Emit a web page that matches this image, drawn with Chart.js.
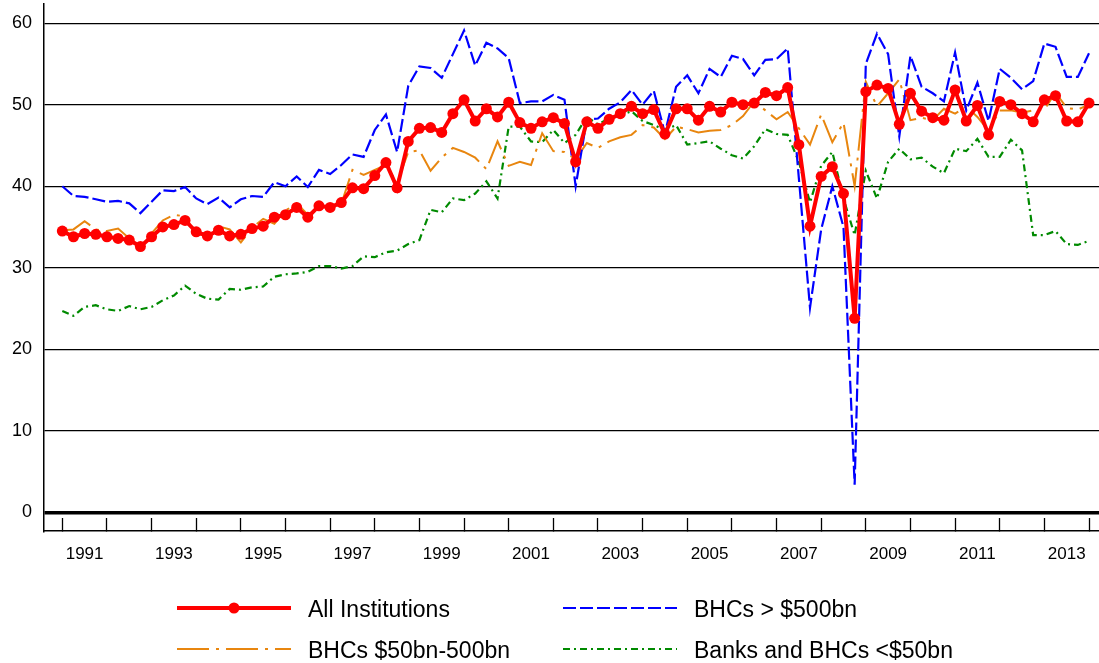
<!DOCTYPE html>
<html>
<head>
<meta charset="utf-8">
<script src="https://cdn.jsdelivr.net/npm/chart.js@4.4.1/dist/chart.umd.min.js"></script>
<style>
  html, body { margin: 0; padding: 0; background: #fff; }
  #chart { display: block; }
</style>
</head>
<body>
<canvas id="chart" width="1099" height="663"></canvas>
<script>
// quarterly observations, 1991 Q1 .. 2014 Q1
const quarters = [];
for (let y = 1991; y <= 2014; y++) {
    for (let q = 1; q <= 4; q++) quarters.push(y + ' Q' + q);
}
quarters.length = 93;

const allInstitutions = [
    34.5, 33.8, 34.2, 34.1, 33.8, 33.6, 33.4, 32.6, 33.8, 35.0, 35.3, 35.8,
    34.4, 33.9, 34.6, 33.9, 34.1, 34.8, 35.1, 36.2, 36.5, 37.4, 36.2, 37.6,
    37.4, 38.0, 39.8, 39.7, 41.3, 42.9, 39.8, 45.5, 47.1, 47.2, 46.6, 48.9,
    50.6, 48.0, 49.5, 48.5, 50.3, 47.8, 47.1, 47.9, 48.4, 47.7, 43.0, 47.9,
    47.1, 48.2, 48.9, 49.8, 48.9, 49.4, 46.4, 49.5, 49.5, 48.1, 49.8, 49.1,
    50.3, 50.0, 50.2, 51.5, 51.1, 52.1, 45.1, 35.1, 41.2, 42.4, 39.1, 23.8,
    51.6, 52.4, 52.0, 47.6, 51.4, 49.2, 48.4, 48.1, 51.8, 48.0, 49.9, 46.3,
    50.4, 50.0, 48.9, 47.9, 50.6, 51.1, 48.0, 47.9, 50.2
];
const bhcsOver500 = [
    40.0, 38.8, 38.7, 38.4, 38.1, 38.2, 37.9, 36.7, 38.1, 39.5, 39.4, 39.9,
    38.5, 37.8, 38.6, 37.4, 38.4, 38.8, 38.7, 40.5, 40.0, 41.2, 39.9, 42.0,
    41.5, 42.6, 43.9, 43.6, 46.9, 48.8, 44.2, 52.3, 54.7, 54.5, 53.3, 56.2,
    59.1, 54.8, 57.6, 56.9, 55.7, 50.2, 50.4, 50.4, 51.2, 50.6, 40.0, 48.2,
    48.3, 49.5, 50.3, 51.8, 50.0, 51.7, 46.5, 52.2, 53.6, 51.4, 54.4, 53.4,
    56.0, 55.6, 53.6, 55.5, 55.6, 56.9, 41.0, 25.1, 34.7, 40.0, 35.0, 3.4,
    55.0, 58.7, 56.2, 46.1, 56.0, 52.2, 51.4, 50.4, 56.4, 49.3, 52.7, 48.0,
    54.4, 53.3, 51.9, 52.9, 57.5, 57.1, 53.4, 53.4, 56.3
];
const bhcs50to500 = [
    34.6, 34.7, 35.7, 34.7, 34.5, 34.8, 33.6, 32.9, 34.2, 35.8, 36.5, 36.3,
    34.0, 34.2, 35.1, 34.7, 33.1, 34.9, 36.0, 35.4, 37.0, 37.9, 36.5, 37.4,
    37.5, 37.8, 42.0, 41.4, 42.0, 42.6, 40.4, 44.2, 44.4, 41.9, 43.5, 44.7,
    44.2, 43.5, 42.1, 45.5, 42.5, 43.0, 42.6, 46.5, 44.3, 44.2, 43.3, 45.3,
    44.7, 45.5, 46.0, 46.3, 47.5, 47.2, 45.8, 47.3, 47.0, 46.6, 46.8, 46.9,
    47.5, 48.6, 50.4, 49.3, 48.2, 49.1, 47.1, 45.1, 48.8, 45.4, 47.8, 40.0,
    52.8, 49.8, 51.4, 53.1, 48.1, 48.4, 48.1, 49.5, 48.9, 49.8, 48.5, 46.8,
    49.3, 49.3, 49.0, 49.3, 49.4, 51.5, 49.6, 49.4, 50.0
];
const banksUnder50 = [
    24.7, 24.1, 25.2, 25.4, 24.9, 24.7, 25.3, 24.9, 25.2, 26.0, 26.6, 27.8,
    26.8, 26.2, 26.1, 27.4, 27.3, 27.6, 27.7, 28.9, 29.2, 29.3, 29.5, 30.2,
    30.2, 29.9, 30.2, 31.4, 31.3, 31.9, 32.1, 32.9, 33.4, 37.1, 36.8, 38.5,
    38.3, 39.1, 40.6, 38.5, 47.3, 47.3, 45.5, 45.4, 46.9, 45.3, 46.3, 48.5,
    47.6, 48.3, 48.7, 49.2, 48.0, 47.5, 46.9, 47.5, 45.1, 45.3, 45.5, 44.6,
    43.8, 43.4, 44.9, 47.0, 46.4, 46.3, 43.0, 38.0, 42.5, 44.2, 38.5, 34.0,
    41.9, 38.5, 43.0, 44.6, 43.3, 43.5, 42.4, 41.6, 44.6, 44.3, 45.8, 43.6,
    43.6, 45.7, 44.4, 34.0, 34.0, 34.5, 32.9, 32.8, 33.3
];

const yearLabels = ['1991', '1993', '1995', '1997', '1999', '2001', '2003',
    '2005', '2007', '2009', '2011', '2013'];
const yTicks = [0, 10, 20, 30, 40, 50, 60];
const seriesNames = ['All Institutions', 'BHCs > $500bn', 'BHCs $50bn-500bn',
    'Banks and BHCs <$50bn'];

const FONT = "'Liberation Sans', Arial, sans-serif";

function quarterToX(label) {
    const parts = label.split(' Q');
    return Number(parts[0]) + (Number(parts[1]) - 1) / 4;
}

function toPoints(values) {
    return values.map((v, i) => ({ x: quarterToX(quarters[i]), y: v }));
}

// legend is laid out in two fixed columns, like the original
const legendSlots = [
    { line: [177, 291], y: 608, textX: 308, baseline: 617 },
    { line: [563, 677], y: 608, textX: 694, baseline: 617 },
    { line: [177, 291], y: 649, textX: 308, baseline: 658 },
    { line: [563, 677], y: 649, textX: 694, baseline: 658 }
];

const columnLegend = {
    id: 'columnLegend',
    afterDraw(chart) {
        const ctx = chart.ctx;
        chart.data.datasets.forEach((ds, i) => {
            const slot = legendSlots[i];
            ctx.save();
            ctx.strokeStyle = ds.borderColor;
            ctx.lineWidth = ds.borderWidth;
            ctx.setLineDash(ds.borderDash || []);
            ctx.beginPath();
            ctx.moveTo(slot.line[0], slot.y);
            ctx.lineTo(slot.line[1], slot.y);
            ctx.stroke();
            if (ds.pointRadius > 0) {
                ctx.fillStyle = ds.pointBackgroundColor;
                ctx.beginPath();
                ctx.arc((slot.line[0] + slot.line[1]) / 2, slot.y, ds.pointRadius, 0, Math.PI * 2);
                ctx.fill();
            }
            ctx.fillStyle = '#000';
            ctx.font = '23px ' + FONT;
            ctx.textBaseline = 'alphabetic';
            ctx.textAlign = 'left';
            ctx.fillText(ds.label, slot.textX, slot.baseline);
            ctx.restore();
        });
    }
};

new Chart(document.getElementById('chart'), {
    type: 'line',
    data: {
        datasets: [
            {
                label: seriesNames[0],
                data: toPoints(allInstitutions),
                borderColor: '#ff0000',
                backgroundColor: '#ff0000',
                borderWidth: 4,
                pointRadius: 5.5,
                pointBackgroundColor: '#ff0000',
                pointBorderWidth: 0,
                tension: 0
            },
            {
                label: seriesNames[1],
                data: toPoints(bhcsOver500),
                borderColor: '#0000ff',
                borderWidth: 2.2,
                borderDash: [13, 4],
                pointRadius: 0,
                tension: 0
            },
            {
                label: seriesNames[2],
                data: toPoints(bhcs50to500),
                borderColor: '#e8860f',
                borderWidth: 2,
                borderDash: [32, 7, 3, 7],
                pointRadius: 0,
                tension: 0
            },
            {
                label: seriesNames[3],
                data: toPoints(banksUnder50),
                borderColor: '#008a00',
                borderWidth: 2.2,
                borderDash: [7, 4, 2, 4],
                pointRadius: 0,
                tension: 0
            }
        ]
    },
    options: {
        responsive: false,
        animation: false,
        devicePixelRatio: 1,
        layout: { autoPadding: false, padding: { top: 4, right: 0, left: 0, bottom: 0 } },
        plugins: {
            legend: { display: false },
            tooltip: { enabled: false }
        },
        scales: {
            x: {
                type: 'linear',
                min: 1990.59,
                max: 2014.224,
                afterBuildTicks: scale => {
                    const marks = quarters.filter(q => q.endsWith('Q1'))
                        .map(q => ({ value: quarterToX(q) }));
                    const labelled = yearLabels.map(l => ({ value: Number(l) + 0.5 }));
                    scale.ticks = marks.concat(labelled).sort((a, b) => a.value - b.value);
                },
                afterFit: scale => {
                    scale.height = 132;
                    scale.paddingLeft = 0;
                    scale.paddingRight = 0;
                },
                ticks: {
                    autoSkip: false,
                    maxRotation: 0,
                    padding: 26,
                    color: '#000',
                    font: { family: FONT, size: 17 },
                    callback: value => yearLabels.find(l => Number(l) + 0.5 === value) || ''
                },
                grid: {
                    drawOnChartArea: false,
                    drawTicks: true,
                    tickLength: -13,
                    tickWidth: 1.3,
                    tickColor: ctx => (ctx.tick && Number.isInteger(ctx.tick.value)) ? '#000' : 'rgba(0,0,0,0)'
                },
                border: { display: true, color: '#000', width: 1.5 }
            },
            y: {
                min: -2.29,
                max: 62.35,
                afterBuildTicks: scale => {
                    scale.ticks = yTicks.map(v => ({ value: v }));
                },
                afterFit: scale => {
                    scale.width = 44;
                    scale.paddingTop = 0;
                    scale.paddingBottom = 0;
                },
                ticks: {
                    padding: 12,
                    color: '#000',
                    font: { family: FONT, size: 18 }
                },
                grid: {
                    drawTicks: false,
                    color: '#000',
                    lineWidth: ctx => (ctx.tick && ctx.tick.value === 0) ? 3.5 : 1.2
                },
                border: { display: true, color: '#000', width: 1.5 }
            }
        }
    },
    plugins: [columnLegend]
});
</script>
</body>
</html>
